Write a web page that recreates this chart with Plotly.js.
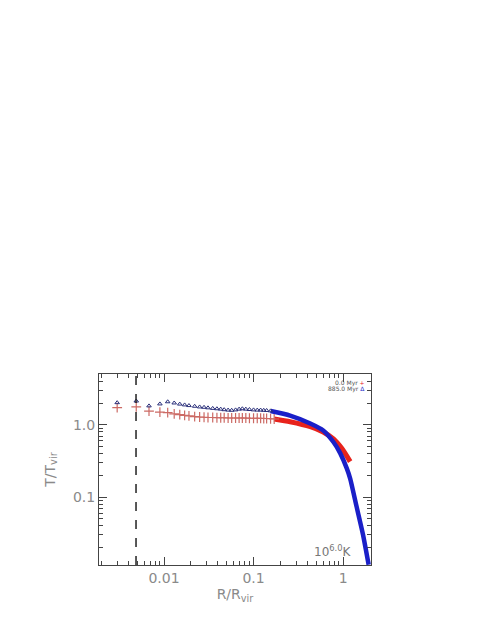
<!DOCTYPE html>
<html><head><meta charset="utf-8">
<script src="https://cdn.plot.ly/plotly-3.0.1.min.js"></script>
<style>html,body{margin:0;padding:0;background:#fff}#plot{width:485px;height:629px}</style>
</head><body><div id="plot"></div>
<script>
// Sparse red crosses (0.0 Myr)
const redX = [0.003, 0.0049, 0.0068, 0.009, 0.011, 0.013, 0.015, 0.017, 0.019, 0.022, 0.025, 0.028, 0.031, 0.035, 0.039, 0.043, 0.047, 0.052, 0.057, 0.063, 0.069, 0.075, 0.082, 0.09, 0.1, 0.11, 0.12, 0.13, 0.14, 0.155, 0.17];
const redY = [1.74, 1.78, 1.56, 1.51, 1.48, 1.43, 1.39, 1.36, 1.34, 1.31, 1.29, 1.28, 1.27, 1.27, 1.26, 1.26, 1.26, 1.25, 1.25, 1.25, 1.25, 1.25, 1.25, 1.24, 1.24, 1.24, 1.24, 1.23, 1.23, 1.22, 1.21];
// Dense red curve
const redCurveX = [0.17, 0.256, 0.43, 0.60, 0.78, 0.97, 1.2];
const redCurveY = [1.21, 1.11, 0.95, 0.80, 0.64, 0.47, 0.31];
// Sparse blue triangles (885.0 Myr)
const blueX = [0.003, 0.0049, 0.0068, 0.009, 0.011, 0.013, 0.015, 0.017, 0.019, 0.022, 0.025, 0.028, 0.031, 0.035, 0.039, 0.043, 0.047, 0.052, 0.057, 0.063, 0.069, 0.075, 0.082, 0.09, 0.1, 0.11, 0.12, 0.13, 0.14, 0.155];
const blueY = [2.04, 2.15, 1.84, 1.96, 2.10, 2.02, 1.95, 1.90, 1.86, 1.82, 1.78, 1.76, 1.73, 1.70, 1.68, 1.66, 1.63, 1.61, 1.60, 1.62, 1.66, 1.68, 1.66, 1.64, 1.62, 1.61, 1.61, 1.60, 1.59, 1.57];
// Dense blue curve
const blueCurveX = [0.155, 0.256, 0.43, 0.60, 0.78, 0.925, 1.1, 1.2, 1.41, 1.67, 1.93];
const blueCurveY = [1.56, 1.35, 1.05, 0.84, 0.58, 0.41, 0.25, 0.18, 0.075, 0.03, 0.0115];
// Ticks
const xMajor = [0.01, 0.1, 1];
const xMajorText = ['0.01', '0.1', '1'];
const xMinor = [0.002,0.003,0.004,0.005,0.006,0.007,0.008,0.009,0.02,0.03,0.04,0.05,0.06,0.07,0.08,0.09,0.2,0.3,0.4,0.5,0.6,0.7,0.8,0.9,2];
const yMajor = [0.1, 1.0];
const yMajorText = ['0.1', '1.0'];
const yMinor = [0.02,0.03,0.04,0.05,0.06,0.07,0.08,0.09,0.2,0.3,0.4,0.5,0.6,0.7,0.8,0.9,2,3,4,5];
const dashedX = 0.00487;

const red = '#e8231c', blue = '#1a1fc8';
const traces = [
  {x: redCurveX, y: redCurveY, mode: 'lines', line: {color: red, width: 5, shape: 'spline', smoothing: 0.6}, hoverinfo: 'skip'},
  {x: blueCurveX, y: blueCurveY, mode: 'lines', line: {color: blue, width: 4.5, shape: 'spline', smoothing: 0.6}, hoverinfo: 'skip'},
  {x: redX, y: redY, mode: 'markers', marker: {symbol: 'cross-thin-open', size: 7, color: '#cc6a64', line: {color: '#cc6a64', width: 1.2}}},
  {x: blueX, y: blueY, mode: 'markers', marker: {symbol: 'triangle-up-open', size: 4, color: '#2a2f7a', line: {color: '#2a2f7a', width: 1}}}
];
const axisCommon = {type: 'log', showgrid: false, zeroline: false, showline: true, linecolor: '#444', linewidth: 1,
  mirror: 'allticks', ticks: 'inside', ticklen: 8, tickcolor: '#444', tickmode: 'array',
  tickfont: {family: 'DejaVu Sans', size: 14, color: '#8a8a8a'}};
const layout = {
  width: 485, height: 629, showlegend: false, paper_bgcolor: '#fff', plot_bgcolor: '#fff',
  margin: {l: 99, r: 114, t: 374, b: 64},
  xaxis: Object.assign({}, axisCommon, {range: [Math.log10(0.00188), Math.log10(2.05)], tickvals: xMajor, ticktext: xMajorText,
    minor: {tickmode: 'array', tickvals: xMinor, ticks: 'inside', ticklen: 4, tickcolor: '#444'},
    title: {text: 'R/R<sub>vir</sub>', font: {family: 'DejaVu Sans', size: 14, color: '#8a8a8a'}, standoff: 2}}),
  yaxis: Object.assign({}, axisCommon, {range: [Math.log10(0.0114), Math.log10(5.1)], tickvals: yMajor, ticktext: yMajorText,
    minor: {tickmode: 'array', tickvals: yMinor, ticks: 'inside', ticklen: 4, tickcolor: '#444'},
    title: {text: 'T/T<sub>vir</sub>', font: {family: 'DejaVu Sans', size: 14, color: '#8a8a8a'}, standoff: 14}}),
  shapes: [{type: 'line', xref: 'x', yref: 'paper', x0: dashedX, x1: dashedX, y0: 0, y1: 1, line: {color: '#222', width: 1.5, dash: 'dash'}}],
  annotations: [
    {xref: 'paper', yref: 'paper', x: 0.985, y: 0.955, xanchor: 'right', yanchor: 'middle', showarrow: false,
     text: '0.0 Myr <span style="color:' + red + '">+</span>', font: {family: 'DejaVu Sans', size: 6, color: '#555'}},
    {xref: 'paper', yref: 'paper', x: 0.985, y: 0.922, xanchor: 'right', yanchor: 'middle', showarrow: false,
     text: '885.0 Myr <span style="color:' + blue + '">Δ</span>', font: {family: 'DejaVu Sans', size: 6, color: '#555'}},
    {xref: 'paper', yref: 'paper', x: 0.86, y: 0.075, xanchor: 'center', yanchor: 'middle', showarrow: false,
     text: '10<sup>6.0</sup>K', font: {family: 'DejaVu Sans', size: 12, color: '#777'}}
  ]
};
Plotly.newPlot('plot', traces, layout, {displayModeBar: false, staticPlot: true});
</script></body></html>
